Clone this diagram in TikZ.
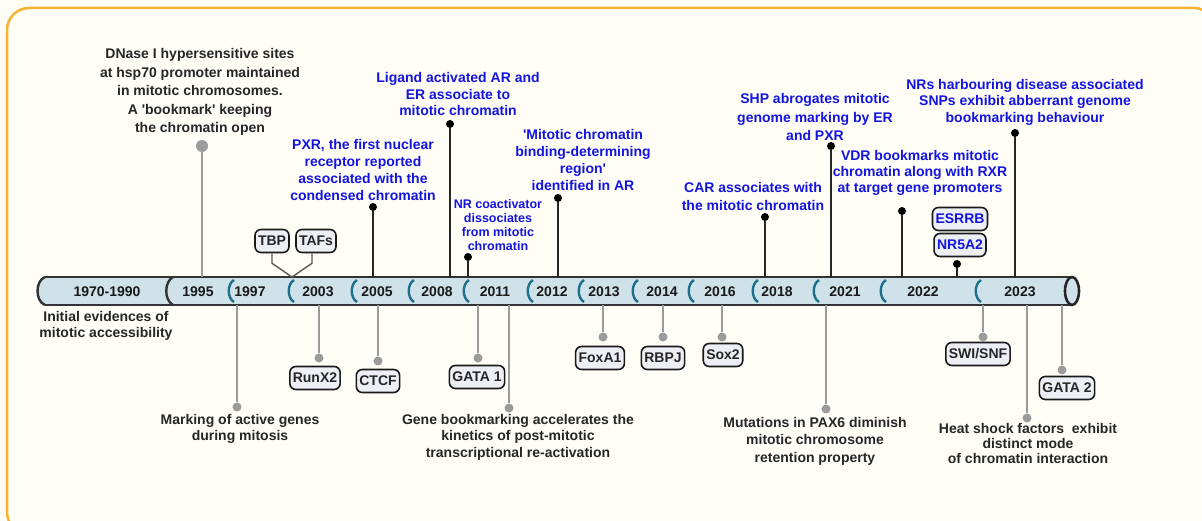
\documentclass[tikz,border=0pt]{standalone}
\usepackage{fontspec}
\setmainfont{Liberation Sans}

\definecolor{cream}{HTML}{FEFDF6}
\definecolor{frameorange}{HTML}{F6B232}
\definecolor{barblue}{HTML}{CFE2EA}
\definecolor{septeal}{HTML}{1C6F88}
\definecolor{nrblue}{HTML}{1414E0}
\definecolor{pingrey}{HTML}{9B9B9B}
\definecolor{tagfill}{HTML}{EDEFF4}

\newcommand{\sq}{\textquotesingle}

\begin{document}
\begin{tikzpicture}[x=1pt, y=-1pt,
    font=\bfseries\fontsize{14}{17}\selectfont,
    evt/.style={align=center, text=black!85, inner sep=0pt},
    nr/.style={evt, text=nrblue},
    year/.style={text=black!90, inner sep=0pt},
    tagbox/.style={draw=black!90, line width=1.6pt, fill=tagfill, rounded corners=6pt,
                   inner xsep=3pt, inner ysep=2pt, minimum height=23pt, text=black!85},
    pinB/.style={line width=1.8pt, black!85},
    pinG/.style={line width=2.2pt, pingrey},
    dotB/.style={circle, fill=black, inner sep=0pt, minimum size=8pt},
    dotG/.style={circle, fill=pingrey, inner sep=0pt, minimum size=9pt},
    sepline/.style={line width=2.4pt, septeal},
    barline/.style={line width=2.4pt, black!80}]

  % Canvas and frame
  \useasboundingbox (0,0) rectangle (1202,521);
  \fill[cream] (0,0) rectangle (1202,521);
  \draw[frameorange, line width=2.5pt, rounded corners=22pt] (7,8) rectangle (1216,534);

  % Timeline bar
  \coordinate (bartop) at (0,277);
  \coordinate (barbot) at (0,305);
  \fill[barblue] (45,277) .. controls (35,281) and (35,301) .. (45,305) -- (1072,305) -- (1072,277) -- cycle;
  \draw[barline] (45,277) -- (1072,277);
  \draw[barline] (45,305) -- (1072,305);
  \draw[barline] (45,277) .. controls (35,281) and (35,301) .. (45,305);
  \draw[barline] (173,277) .. controls (164,282) and (164,300) .. (173,305);
  \foreach \x in {228,288,351,408,463,527,578,632,688,752,813,880,975}
    \draw[sepline] ({\x+6},280) .. controls ({\x-1},284) and ({\x-1},298) .. ({\x+6},302);
  \draw[line width=2.6pt, black!85, fill=barblue] (1072,291) ellipse [x radius=7, y radius=14];

  % Years
  \foreach \x/\yr in {107/1970-1990, 198/1995, 250/1997, 318/2003, 377/2005, 437/2008,
                      495/2011, 552/2012, 604/2013, 662/2014, 720/2016, 777/2018,
                      845/2021, 923/2022, 1020/2023}
    \node[year] (y\yr) at (\x,292) {\yr};

  % Events above the bar
  \node[evt, font=\bfseries\fontsize{14}{18.5}\selectfont] (dnase) at (200,92)
    {DNase I hypersensitive sites\\at hsp70 promoter maintained\\in mitotic chromosomes.\\A \sq bookmark\sq{} keeping\\the chromatin open};
  \node[dotG, minimum size=12pt] (d1995) at (202,146) {};
  \draw[pinG] (d1995) -- (d1995 |- bartop);

  \node[tagbox] (tbp) at (272,241) {TBP};
  \node[tagbox] (tafs) at (316,241) {TAFs};
  \coordinate (v1997) at (292,277);
  \draw[line width=1.4pt, black!65] (tbp.south) -- ++(0,10) -- (v1997);
  \draw[line width=1.4pt, black!65] ([xshift=-4pt]tafs.south) -- ++(0,10) -- (v1997);

  \node[nr] (pxr) at (363,170) {PXR, the first nuclear\\receptor reported\\associated with the\\condensed chromatin};
  \node[dotB] (d2005) at (373,207) {};
  \draw[pinB] (d2005) -- (d2005 |- bartop);

  \node[nr, font=\bfseries\fontsize{14}{16.5}\selectfont] (ligand) at (458,94) {Ligand activated AR and\\ER associate to\\mitotic chromatin};
  \node[dotB] (d2008) at (450,124) {};
  \draw[pinB] (d2008) -- (d2008 |- bartop);

  \node[nr, font=\bfseries\fontsize{12.5}{14.3}\selectfont] (nrcoact) at (498,225) {NR coactivator\\dissociates\\from mitotic\\chromatin};
  \node[dotB] (d2011) at (468,257) {};
  \draw[pinB] (d2011) -- (d2011 |- bartop);

  \node[nr] (mcbdr) at (583,160) {\sq Mitotic chromatin\\binding-determining\\region\sq\\identified in AR};
  \node[dotB] (d2012) at (558,198) {};
  \draw[pinB] (d2012) -- (d2012 |- bartop);

  \node[nr, font=\bfseries\fontsize{14}{18}\selectfont] (car) at (753,196) {CAR associates with\\the mitotic chromatin};
  \node[dotB] (d2018) at (765,217) {};
  \draw[pinB] (d2018) -- (d2018 |- bartop);

  \node[nr, font=\bfseries\fontsize{14}{18.5}\selectfont] (shp) at (815,117) {SHP abrogates mitotic\\genome marking by ER\\and PXR};
  \node[dotB] (d2021) at (831,146) {};
  \draw[pinB] (d2021) -- (d2021 |- bartop);

  \node[nr, font=\bfseries\fontsize{14}{16}\selectfont] (vdr) at (920,173) {VDR bookmarks mitotic\\chromatin along with RXR\\at target gene promoters};
  \node[dotB] (d2022) at (902,211) {};
  \draw[pinB] (d2022) -- (d2022 |- bartop);

  \node[tagbox, text=nrblue] (esrrb) at (960,219) {ESRRB};
  \node[tagbox, text=nrblue] (nr5a2) at (960,245) {NR5A2};
  \node[dotB] (dnr5a2) at (957,264) {};
  \draw[pinB] (dnr5a2) -- (dnr5a2 |- bartop);

  \node[nr, font=\bfseries\fontsize{14}{16.5}\selectfont] (snps) at (1025,102) {NRs harbouring disease associated\\SNPs exhibit abberrant genome\\bookmarking behaviour};
  \node[dotB] (d2023) at (1015,133) {};
  \draw[pinB] (d2023) -- (d2023 |- bartop);

  % Events below the bar
  \node[evt, font=\bfseries\fontsize{14}{16}\selectfont] (initial) at (106,326) {Initial evidences of\\mitotic accessibility};

  \node[dotG] (dmark) at (237,407) {};
  \draw[pinG] (dmark) -- (dmark |- barbot);
  \node[evt, font=\bfseries\fontsize{14}{16}\selectfont] (marking) at (240,429) {Marking of active genes\\during mitosis};

  \node[dotG] (drunx2) at (319,358) {};
  \draw[pinG] (drunx2) -- (drunx2 |- barbot);
  \node[tagbox] (runx2) at (315,378) {RunX2};

  \node[dotG] (dctcf) at (378,361) {};
  \draw[pinG] (dctcf) -- (dctcf |- barbot);
  \node[tagbox] (ctcf) at (378,381) {CTCF};

  \node[dotG] (dgata1) at (478,358) {};
  \draw[pinG] (dgata1) -- (dgata1 |- barbot);
  \node[tagbox] (gata1) at (477,377) {GATA 1};

  \node[dotG] (dgene) at (509,408) {};
  \draw[pinG] (dgene) -- (dgene |- barbot);
  \node[evt, font=\bfseries\fontsize{14}{16.5}\selectfont] (genebm) at (518,437) {Gene bookmarking accelerates the\\kinetics of post-mitotic\\transcriptional re-activation};

  \node[dotG] (dfoxa1) at (603,337) {};
  \draw[pinG] (dfoxa1) -- (dfoxa1 |- barbot);
  \node[tagbox] (foxa1) at (600,358) {FoxA1};

  \node[dotG] (drbpj) at (663,337) {};
  \draw[pinG] (drbpj) -- (drbpj |- barbot);
  \node[tagbox] (rbpj) at (663,358) {RBPJ};

  \node[dotG] (dsox2) at (722,337) {};
  \draw[pinG] (dsox2) -- (dsox2 |- barbot);
  \node[tagbox] (sox2) at (723,355) {Sox2};

  \node[dotG] (dpax6) at (826,409) {};
  \draw[pinG] (dpax6) -- (dpax6 |- barbot);
  \node[evt, font=\bfseries\fontsize{14}{17.5}\selectfont] (pax6) at (815,441) {Mutations in PAX6 diminish\\mitotic chromosome\\retention property};

  \node[dotG] (dswi) at (983,337) {};
  \draw[pinG] (dswi) -- (dswi |- barbot);
  \node[tagbox] (swisnf) at (978,354) {SWI/SNF};

  \node[dotG] (dhsf) at (1027,418) {};
  \draw[pinG] (dhsf) -- (dhsf |- barbot);
  \node[evt, font=\bfseries\fontsize{14}{15}\selectfont] (hsf) at (1028,443) {Heat shock factors\ \ exhibit\\distinct mode\\of chromatin interaction};

  \node[dotG] (dgata2) at (1062,370) {};
  \draw[pinG] (dgata2) -- (dgata2 |- barbot);
  \node[tagbox] (gata2) at (1067,388) {GATA 2};

\end{tikzpicture}
\end{document}
